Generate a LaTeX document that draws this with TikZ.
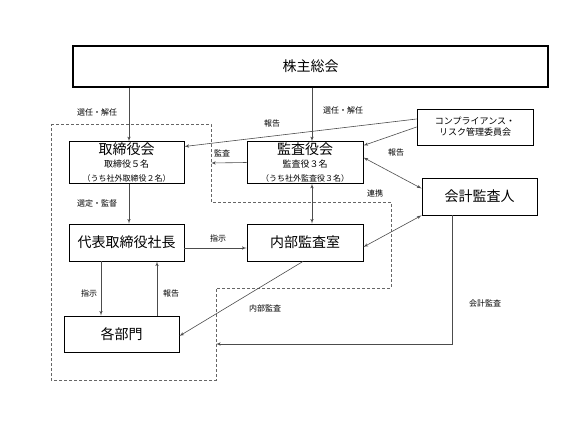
\documentclass[tikz,border=0pt]{standalone}
\usepackage{fontspec}
\setmainfont{Noto Sans CJK JP}
\usepackage{tikz}
\usetikzlibrary{arrows}

\begin{document}
\begin{tikzpicture}[x=1pt,y=-1pt]
            \tikzset{
                organ/.style={draw, thick, fill=white, minimum width=115pt, minimum height=37pt, inner sep=1pt, font=\fontsize{14}{16}\selectfont},
                edge/.style={->,> = latex', draw=black!70, line width=0.6pt},
                biedge/.style={<->,> = latex', draw=black!70, line width=0.6pt},
                note/.style={font=\fontsize{8}{9}\selectfont}
            }
            \useasboundingbox (0,0) rectangle (586,439);

            % internal control area
            \coordinate (ic1) at (51,124);
            \coordinate (ic2) at (211,124);
            \coordinate (ic3) at (211,202);
            \coordinate (ic4) at (391,202);
            \coordinate (ic5) at (391,288);
            \coordinate (ic6) at (216,288);
            \coordinate (ic7) at (216,380);
            \coordinate (ic8) at (51,380);
            \draw[densely dashed, draw=black!60, line width=0.6pt] (ic1) -- (ic2) -- (ic3) -- (ic4) -- (ic5) -- (ic6) -- (ic7) -- (ic8) -- cycle;
            \coordinate (kansaend) at (211,163);
            \coordinate (kaikeiend) at (216,344);

            % vertices
            \node[organ, line width=1.4pt, minimum width=475pt, minimum height=41pt] (soukai) at (310.5,66.5) {株主総会};
            \node[organ, minimum height=41pt, align=center] (torishimari) at (126.5,162.5)
                {取締役会\\[-3pt]{\fontsize{9}{10}\selectfont 取締役５名}\\[-2pt]{\fontsize{8}{9}\selectfont （うち社外取締役２名）}};
            \node[organ, minimum width=116pt, minimum height=41pt, align=center] (kansa) at (305,162.5)
                {監査役会\\[-3pt]{\fontsize{9}{10}\selectfont 監査役３名}\\[-2pt]{\fontsize{8}{9}\selectfont （うち社外監査役３名）}};
            \node[organ, minimum width=116pt, minimum height=36pt, align=center, font=\fontsize{9}{11}\selectfont] (comp) at (475,127)
                {コンプライアンス・\\リスク管理委員会};
            \node[organ] (kaikei) at (479.5,196.5) {会計監査人};
            \node[organ] (shachou) at (126.5,242.5) {代表取締役社長};
            \node[organ, minimum width=116pt] (naibu) at (305,242.5) {内部監査室};
            \node[organ, minimum height=36pt] (bumon) at (121.5,334) {各部門};

            %edges
            \draw[edge] ([xshift=2.5pt]torishimari.north |- soukai.south) -- ([xshift=2.5pt]torishimari.north);
            \draw[edge] ([xshift=7pt]kansa.north |- soukai.south) -- ([xshift=7pt]kansa.north);
            \draw[edge] ([yshift=8pt]comp.west) -- ([yshift=16pt]torishimari.east);
            \draw[edge] (comp.west) -- ([yshift=17pt]kansa.east);
            \draw[edge] (kansa.west) -- (kansaend);
            \draw[biedge] ([yshift=5pt]kansa.east) -- ([yshift=8pt]kaikei.west);
            \draw[biedge] ([xshift=7pt]kansa.south) -- ([xshift=7pt]naibu.north);
            \draw[biedge] (kaikei.south west) -- ([yshift=-4.5pt]naibu.east);
            \draw[edge] ([xshift=2.5pt]torishimari.south) -- ([xshift=2.5pt]shachou.north);
            \draw[edge] ([yshift=-5.5pt]shachou.east) -- ([yshift=-5.5pt]naibu.west);
            \draw[edge] ([xshift=-25.5pt]shachou.south) -- ([xshift=-25.5pt]shachou.south |- bumon.north);
            \draw[edge] ([xshift=35.5pt]bumon.north) -- ([xshift=35.5pt]bumon.north |- shachou.south);
            \draw[edge] ([xshift=-2pt]naibu.south) -- ([yshift=-2pt]bumon.east);
            \draw[edge] ([xshift=-27.5pt]kaikei.south) |- (kaikeiend);

            % labels
            \node[note] (l1) at (97,112) {選任・解任};
            \node[note] (l2) at (343,110) {選任・解任};
            \node[note] (l3) at (272,123) {報告};
            \node[note] (l4) at (396,152) {報告};
            \node[note] (l5) at (222,153) {監査};
            \node[note] (l6) at (375,193) {連携};
            \node[note] (l7) at (97,203) {選定・監督};
            \node[note] (l8) at (218,238) {指示};
            \node[note] (l9) at (89,293) {指示};
            \node[note] (l10) at (171,293) {報告};
            \node[note] (l11) at (265,308) {内部監査};
            \node[note] (l12) at (485,303) {会計監査};
\end{tikzpicture}
\end{document}
